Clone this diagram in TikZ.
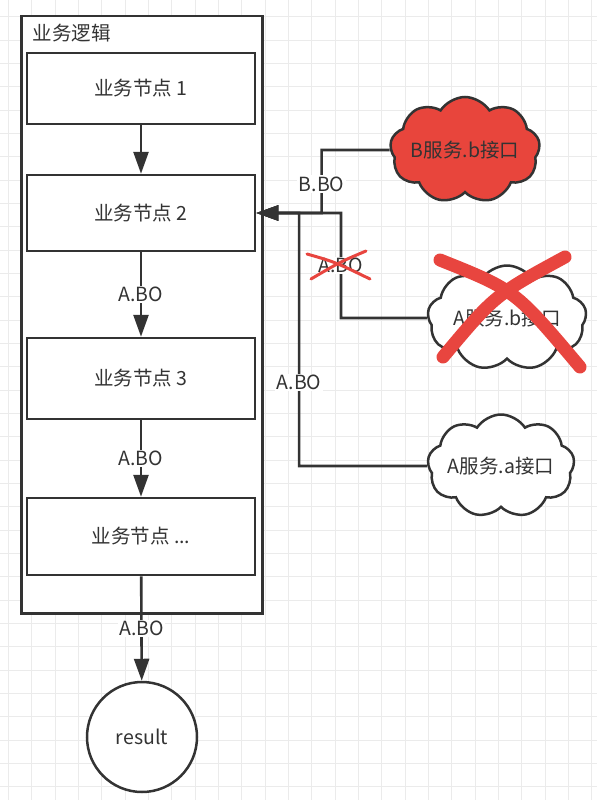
\documentclass[tikz,border=0pt]{standalone}
\usepackage{fontspec}
\setmainfont{Noto Sans CJK SC}
\usetikzlibrary{shapes.symbols,arrows.meta}
\definecolor{ink}{HTML}{333333}
\definecolor{gridc}{HTML}{EBEBEB}
\definecolor{redfill}{HTML}{E8453C}
\definecolor{redx}{HTML}{E8453F}
\begin{document}
\begin{tikzpicture}[x=1pt,y=-1pt,
  txt/.style={font=\fontsize{19.5}{22}\selectfont, text=ink},
  box/.style={txt, draw=ink, line width=2.5pt, fill=white, minimum width=228pt},
  cont/.style={draw=ink, line width=2.5pt, fill=white},
  cloudy/.style={txt, cloud, cloud puffs=9, cloud puff arc=115, cloud ignores aspect, draw=ink, line width=2.5pt, inner sep=0pt},
  conn/.style={draw=ink, line width=2.6pt, -{Triangle[length=22pt,width=15pt]}},
  lbl/.style={txt, fill=white, inner sep=1.5pt},
  bigx/.style={draw=redx, line width=13pt, line cap=round},
  smallx/.style={draw=redx, line width=3pt, line cap=round}]
% background and grid
\fill[white] (0,0) rectangle (597,800);
\useasboundingbox (0,0) rectangle (597,800);
\foreach \i in {0,...,25} {\draw[gridc, line width=1pt] ({8.4+\i*23.333},0) -- ({8.4+\i*23.333},800);}
\foreach \j in {0,...,33} {\draw[gridc, line width=1pt] (0,{16.7+\j*23.333}) -- (597,{16.7+\j*23.333});}
% container
\node[cont, minimum width=241pt, minimum height=597pt, anchor=north west] (container) at (20,15) {};
\node[txt, anchor=west] (title) at (29,33) {业务逻辑};
% business nodes
\node[box, minimum height=71pt] (n1) at (141,88.5) {业务节点 1};
\node[box, minimum height=76pt] (n2) at (141,213) {业务节点 2};
\node[box, minimum height=81pt] (n3) at (141,378.5) {业务节点 3};
\node[box, minimum height=77pt] (n4) at (141,536.5) {业务节点 ...};
\node[txt, draw=ink, line width=2.5pt, fill=white, circle, minimum size=110pt, inner sep=0pt] (result) at (142,737) {result};
% vertical flow
\draw[conn] (n1) -- (n2);
\draw[conn] (n2) -- node[lbl]{A.BO} (n3);
\draw[conn] (n3) -- node[lbl]{A.BO} (n4);
\draw[conn] (n4) -- node[lbl]{A.BO} (result);
% clouds
\node[cloudy, fill=redfill, minimum width=150pt, minimum height=106pt] (cb) at (465,150) {B服务.b接口};
\node[cloudy, fill=white, minimum width=159pt, minimum height=105pt] (cab) at (507,318) {A服务.b接口};
\node[cloudy, fill=white, minimum width=147pt, minimum height=103pt] (caa) at (501,466) {A服务.a接口};
% connectors from clouds
\draw[conn] (cb.west) -- ++(-68,0) -- node[lbl, pos=0.54]{B.BO} ++(0,63) -- (n2.east);
\draw[conn] (cab.west) -- ++(-86,0) -- node[lbl, pos=0.5]{A.BO} ++(0,-105) -- (n2.east);
\draw[conn] (caa.west) -- ++(-128,0) -- node[lbl, pos=0.33]{A.BO} ++(0,-253) -- (n2.east);
% crosses
\draw[smallx] (307,254) .. controls (335,262) .. (370,279);
\draw[smallx] (366,251) .. controls (340,262) .. (311,279);
\draw[bigx] (440,260) .. controls (515,290) .. (580,367);
\draw[bigx] (565,257) .. controls (495,295) .. (443,357);
\end{tikzpicture}
\end{document}
